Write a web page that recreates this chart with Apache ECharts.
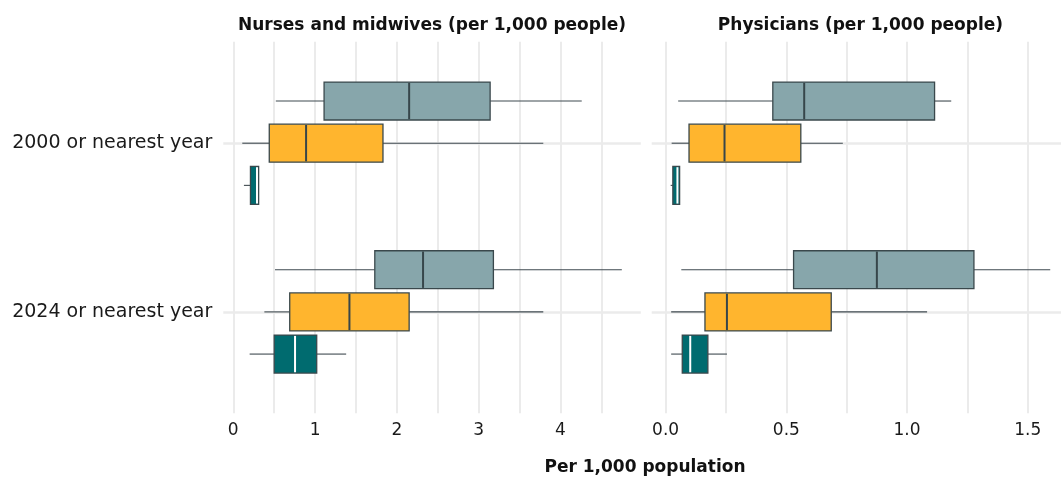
<!DOCTYPE html>
<html>
<head>
<meta charset="utf-8">
<script src="https://cdn.jsdelivr.net/npm/echarts@6/dist/echarts.min.js"></script>
<style>
  html, body { margin: 0; padding: 0; background: #ffffff; }
  #chart { width: 1061px; height: 478px; }
</style>
</head>
<body>
<div id="chart"></div>
<script>
// Category rows (top to bottom)
const years = ['2000 or nearest year', '2024 or nearest year'];

// Box statistics per year: [lower whisker, Q1, median, Q3, upper whisker]
// Nurses and midwives per 1,000 people
const nursesGrey   = [[0.52, 1.11, 2.15, 3.14, 4.26], [0.51, 1.73, 2.32, 3.18, 4.75]];
const nursesYellow = [[0.11, 0.44, 0.89, 1.83, 3.79], [0.38, 0.69, 1.42, 2.15, 3.79]];
const nursesTeal   = [[0.13, 0.21, 0.29, 0.31, 0.31], [0.20, 0.50, 0.755, 1.02, 1.38]];
// Physicians per 1,000 people
const physGrey     = [[0.052, 0.444, 0.574, 1.114, 1.183], [0.065, 0.53, 0.875, 1.277, 1.593]];
const physYellow   = [[0.025, 0.097, 0.244, 0.56, 0.734], [0.023, 0.163, 0.254, 0.686, 1.083]];
const physTeal     = [[0.021, 0.030, 0.049, 0.058, 0.058], [0.023, 0.069, 0.102, 0.175, 0.254]];

// Tick labels and grid line positions
const nursesTicks = [0, 1, 2, 3, 4];
const nursesGridLines = [0, 0.5, 1, 1.5, 2, 2.5, 3, 3.5, 4, 4.5];
const physTicks = [0, 0.5, 1, 1.5];
const physGridLines = [0, 0.25, 0.5, 0.75, 1, 1.25, 1.5];

const panelTitles = ['Nurses and midwives (per 1,000 people)', 'Physicians (per 1,000 people)'];
const xTitle = 'Per 1,000 population';

const fills = ['#87a6ab', '#ffb52e', '#006b6f'];
const medianColors = ['#37464a', '#37464a', '#ffffff'];
const FONT = '"DejaVu Sans", sans-serif';

// Axis range with a 5% pad on both sides of the data
function padded(sets) {
  let lo = Infinity, hi = -Infinity;
  sets.forEach(s => s.forEach(r => { lo = Math.min(lo, r[0]); hi = Math.max(hi, r[4]); }));
  const pad = (hi - lo) * 0.05;
  return [lo - pad, hi + pad];
}
const nursesRange = padded([nursesGrey, nursesYellow, nursesTeal]);
const physRange = padded([physGrey, physYellow, physTeal]);

// Dodged horizontal box: slot 0 above the row line, 1 on it, 2 below
function renderBox(params, api) {
  const cat = api.value(0);
  const slot = api.value(1);
  const lo = api.value(2), q1 = api.value(3), med = api.value(4), q3 = api.value(5), hi = api.value(6);
  const band = api.size([0, 1])[1];
  const yc = api.coord([med, cat])[1] + (slot - 1) * band * 0.25;
  const h = band * 0.225;
  const xLo = api.coord([lo, cat])[0];
  const xQ1 = api.coord([q1, cat])[0];
  const xMed = api.coord([med, cat])[0];
  const xQ3 = api.coord([q3, cat])[0];
  const xHi = api.coord([hi, cat])[0];
  const children = [];
  if (xQ1 - xLo > 0.5) {
    children.push({ type: 'line', shape: { x1: xLo, y1: yc, x2: xQ1, y2: yc },
      style: { stroke: '#3f4a50', lineWidth: 1.1 } });
  }
  if (xHi - xQ3 > 0.5) {
    children.push({ type: 'line', shape: { x1: xQ3, y1: yc, x2: xHi, y2: yc },
      style: { stroke: '#3f4a50', lineWidth: 1.1 } });
  }
  children.push({ type: 'rect', shape: { x: xQ1, y: yc - h / 2, width: xQ3 - xQ1, height: h },
    style: { fill: fills[slot], stroke: '#3a484c', lineWidth: 1.3 } });
  children.push({ type: 'line', shape: { x1: xMed, y1: yc - h / 2 + 0.8, x2: xMed, y2: yc + h / 2 - 0.8 },
    style: { stroke: medianColors[slot], lineWidth: 2 } });
  return { type: 'group', children: children };
}

function boxData(rows, slot) {
  return rows.map((r, i) => [i, slot, r[0], r[1], r[2], r[3], r[4]]);
}

function boxSeries(name, rows, slot, axisIdx) {
  return {
    type: 'custom', name: name, xAxisIndex: axisIdx, yAxisIndex: axisIdx,
    renderItem: renderBox, data: boxData(rows, slot),
    encode: { x: [2, 3, 4, 5, 6], y: 0 }, clip: false, silent: true
  };
}

const gridLineStyle = { color: '#ebebeb', width: 2 };
const panelLeft = [223.3, 651.7];
const panelWidth = 417.5;

function bgXAxis(grid, range, ticks, lines, fmt) {
  return {
    type: 'value', gridIndex: grid, min: range[0], max: range[1],
    axisLine: { show: false },
    axisTick: { show: false, customValues: lines },
    splitLine: { show: true, lineStyle: gridLineStyle },
    axisLabel: { customValues: ticks, formatter: fmt, margin: 9,
      fontFamily: FONT, fontSize: 17, color: '#1a1a1a' }
  };
}
function hiddenXAxis(grid, range) {
  return { type: 'value', gridIndex: grid, min: range[0], max: range[1], show: false };
}

function panelGrid(left, top, height) {
  return { left: left, width: panelWidth, top: top, height: height,
    containLabel: false, outerBoundsMode: 'none' };
}

const titleStyle = { fontFamily: FONT, fontWeight: 'bold', fontSize: 17, color: '#111111' };

const chart = echarts.init(document.getElementById('chart'), null, { renderer: 'canvas' });
chart.setOption({
  animation: false,
  backgroundColor: '#ffffff',
  title: [
    { text: panelTitles[0], left: panelLeft[0] + panelWidth / 2, top: 17, textAlign: 'center', padding: 0,
      textStyle: titleStyle },
    { text: panelTitles[1], left: panelLeft[1] + panelWidth / 2, top: 17, textAlign: 'center', padding: 0,
      textStyle: titleStyle },
    { text: xTitle, left: 645, top: 459, textAlign: 'center', padding: 0,
      textStyle: titleStyle }
  ],
  grid: [
    panelGrid(panelLeft[0], 41.7, 371.6),
    panelGrid(panelLeft[0], 143.2, 168.7),
    panelGrid(panelLeft[1], 41.7, 371.6),
    panelGrid(panelLeft[1], 143.2, 168.7)
  ],
  xAxis: [
    bgXAxis(0, nursesRange, nursesTicks, nursesGridLines, v => String(v)),
    hiddenXAxis(1, nursesRange),
    bgXAxis(2, physRange, physTicks, physGridLines, v => v.toFixed(1)),
    hiddenXAxis(3, physRange)
  ],
  yAxis: [
    { type: 'value', gridIndex: 0, show: false },
    { type: 'category', gridIndex: 1, data: years, inverse: true, boundaryGap: false,
      axisLine: { show: false }, axisTick: { show: false },
      splitLine: { show: true, lineStyle: { color: '#ebebeb', width: 2.5 } },
      axisLabel: { margin: 11, fontFamily: FONT, fontSize: 19, color: '#1a1a1a' } },
    { type: 'value', gridIndex: 2, show: false },
    { type: 'category', gridIndex: 3, data: years, inverse: true, boundaryGap: false,
      axisLine: { show: false }, axisTick: { show: false },
      splitLine: { show: true, lineStyle: { color: '#ebebeb', width: 2.5 } },
      axisLabel: { show: false } }
  ],
  series: [
    boxSeries('Grey group', nursesGrey, 0, 1),
    boxSeries('Yellow group', nursesYellow, 1, 1),
    boxSeries('Teal group', nursesTeal, 2, 1),
    boxSeries('Grey group', physGrey, 0, 3),
    boxSeries('Yellow group', physYellow, 1, 3),
    boxSeries('Teal group', physTeal, 2, 3)
  ]
});
</script>
</body>
</html>
